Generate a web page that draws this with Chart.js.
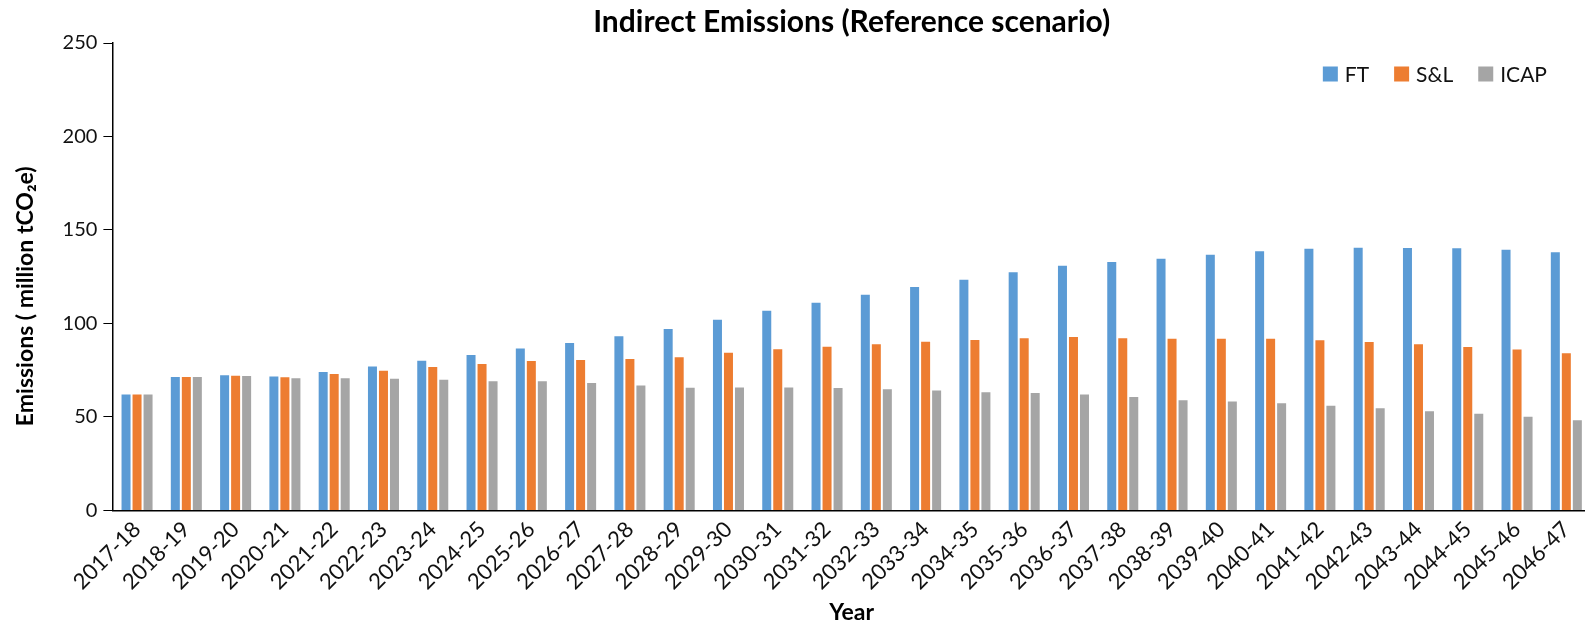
<!DOCTYPE html>
<html lang="en">
<head>
    <meta charset="UTF-8">
    <title>Indirect Emissions (Reference scenario)</title>
    <script src="https://cdn.jsdelivr.net/npm/chart.js"></script>
    <style>
        html, body {
            margin: 0;
            padding: 0;
            background: #fff;
            overflow: hidden;
        }
        /* plot runs slightly past the right edge, like the original */
        #wrap {
            width: 1591px;
            height: 626px;
        }
    </style>
</head>
<body>
    <div id="wrap">
        <canvas id="emissionsChart"></canvas>
    </div>

    <script>
        const years = ['2017-18', '2018-19', '2019-20', '2020-21', '2021-22', '2022-23', '2023-24', '2024-25',
            '2025-26', '2026-27', '2027-28', '2028-29', '2029-30', '2030-31', '2031-32', '2032-33',
            '2033-34', '2034-35', '2035-36', '2036-37', '2037-38', '2038-39', '2039-40', '2040-41',
            '2041-42', '2042-43', '2043-44', '2044-45', '2045-46', '2046-47'];

        const ftValues = [62.6, 71.9, 72.8, 72.1, 74.6, 77.5, 80.6, 83.7, 87.1, 90.1, 93.7, 97.6, 102.5, 107.3, 111.6,
            115.9, 120.0, 123.9, 127.9, 131.4, 133.4, 135.2, 137.3, 139.1, 140.5, 141.0, 140.9, 140.8, 139.9, 138.6];
        const slValues = [62.6, 71.9, 72.6, 71.7, 73.5, 75.3, 77.2, 78.9, 80.5, 81.0, 81.5, 82.4, 84.8, 86.7, 88.1,
            89.4, 90.7, 91.7, 92.6, 93.3, 92.6, 92.3, 92.3, 92.3, 91.6, 90.6, 89.4, 88.0, 86.6, 84.6];
        const icapValues = [62.6, 71.9, 72.4, 71.2, 71.2, 71.0, 70.4, 69.6, 69.6, 68.7, 67.4, 66.2, 66.3, 66.3, 66.0,
            65.3, 64.7, 63.8, 63.3, 62.6, 61.2, 59.5, 58.8, 57.8, 56.5, 55.2, 53.6, 52.2, 50.6, 48.8];

        const yTicks = [0, 50, 100, 150, 200, 250];

        Chart.defaults.font.family = 'Lato, "Open Sans", sans-serif';
        Chart.defaults.color = '#111';

        // legend sits inside the plot, top right
        const cornerLegend = {
            id: 'cornerLegend',
            afterDraw(chart) {
                const ctx = chart.ctx;
                const area = chart.chartArea;
                const box = 15, gap = 7, spacing = 25;
                ctx.save();
                ctx.font = '21px Lato, "Open Sans", sans-serif';
                ctx.textBaseline = 'middle';
                const items = chart.data.datasets.map(ds => ({
                    text: ds.label,
                    color: ds.backgroundColor,
                    w: ctx.measureText(ds.label).width
                }));
                let total = items.reduce((s, it) => s + box + gap + it.w, 0) + spacing * (items.length - 1);
                let x = area.right - 44 - total;
                const y = area.top + 31;
                items.forEach(it => {
                    ctx.fillStyle = it.color;
                    ctx.fillRect(x, y - box / 2, box, box);
                    ctx.fillStyle = '#111';
                    ctx.fillText(it.text, x + box + gap, y + 1);
                    x += box + gap + it.w + spacing;
                });
                ctx.restore();
            }
        };

        const ctx = document.getElementById('emissionsChart').getContext('2d');
        new Chart(ctx, {
            type: 'bar',
            data: {
                labels: years,
                datasets: [
                    {
                        label: 'FT',
                        data: ftValues,
                        backgroundColor: '#5B9BD5',
                        borderColor: 'rgba(255,255,255,0.35)',
                        borderWidth: 1
                    },
                    {
                        label: 'S&L',
                        data: slValues,
                        backgroundColor: '#ED7D31',
                        borderColor: 'rgba(255,255,255,0.35)',
                        borderWidth: 1
                    },
                    {
                        label: 'ICAP',
                        data: icapValues,
                        backgroundColor: '#A5A5A5',
                        borderColor: 'rgba(255,255,255,0.35)',
                        borderWidth: 1
                    }
                ]
            },
            options: {
                responsive: true,
                maintainAspectRatio: false,
                animation: false,
                categoryPercentage: 0.67,
                barPercentage: 1.0,
                layout: { padding: 0 },
                plugins: {
                    legend: { display: false },
                    tooltip: { enabled: false },
                    title: {
                        display: true,
                        text: 'Indirect Emissions (Reference scenario)',
                        fullSize: false,
                        color: '#000',
                        font: { size: 30, weight: 'bold' },
                        padding: { top: 4, bottom: 3 }
                    }
                },
                scales: {
                    x: {
                        grid: { display: false, drawTicks: false },
                        border: { display: true, color: '#000', width: 1.5 },
                        ticks: {
                            autoSkip: false,
                            maxRotation: 45,
                            minRotation: 45,
                            padding: 6,
                            color: '#111',
                            font: { size: 22 }
                        },
                        title: {
                            display: true,
                            text: 'Year',
                            color: '#000',
                            font: { size: 23, weight: 'bold', lineHeight: 1.0 },
                            padding: { top: 0, bottom: 2 }
                        }
                    },
                    y: {
                        min: 0,
                        max: 250,
                        afterBuildTicks: axis => {
                            axis.ticks = yTicks.map(v => ({ value: v }));
                        },
                        grid: {
                            display: true,
                            drawOnChartArea: false,
                            drawTicks: true,
                            tickLength: 9,
                            color: '#000'
                        },
                        border: { display: true, color: '#000', width: 1.5 },
                        ticks: {
                            padding: 6,
                            color: '#111',
                            font: { size: 20 }
                        },
                        title: {
                            display: true,
                            text: 'Emissions ( million tCO\u2082e)' + '       ',
                            color: '#000',
                            font: { size: 23, weight: 'bold' },
                            padding: { top: 12, bottom: 17 }
                        }
                    }
                }
            },
            plugins: [cornerLegend]
        });
    </script>
</body>
</html>
